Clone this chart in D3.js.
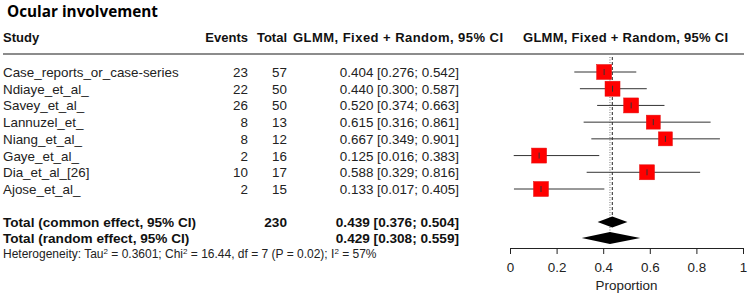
<!DOCTYPE html>
<html>
<head>
<meta charset="utf-8">
<script src="https://cdn.jsdelivr.net/npm/d3@7"></script>
<style>
  body { margin: 0; background: #fff; }
  text { font-family: "Liberation Sans", Arial, sans-serif; }
</style>
</head>
<body>
<svg width="750" height="295"></svg>
<script>
// study level data
const studies = ["Case_reports_or_case-series", "Ndiaye_et_al_", "Savey_et_al_", "Lannuzel_et_",
                 "Niang_et_al_", "Gaye_et_al_", "Dia_et_al_[26]", "Ajose_et_al_"];
const events = [23, 22, 26, 8, 8, 2, 10, 2];
const totals = [57, 50, 50, 13, 12, 16, 17, 15];
const props = [0.404, 0.440, 0.520, 0.615, 0.667, 0.125, 0.588, 0.133];
const lowers = [0.276, 0.300, 0.374, 0.316, 0.349, 0.016, 0.329, 0.017];
const uppers = [0.542, 0.587, 0.663, 0.861, 0.901, 0.383, 0.816, 0.405];

// pooled estimates
const pooledLabels = ["Total (common effect, 95% CI)", "Total (random effect, 95% CI)"];
const pooledTotals = ["230", ""];
const pooledEst = [0.439, 0.429];
const pooledLow = [0.376, 0.308];
const pooledHigh = [0.504, 0.559];

const axisTicks = [0, 0.2, 0.4, 0.6, 0.8, 1];

const svg = d3.select("svg");
const fmt = d3.format(".3f");

const x = d3.scaleLinear().domain([0, 1]).range([510, 743]);
const rowY = d3.scaleLinear().domain([0, 7]).range([72, 189]);
const poolY = d3.scaleLinear().domain([0, 1]).range([222, 238]);

// title
svg.append("text")
    .attr("x", 7)
    .attr("y", 17)
    .attr("font-size", "15.3px")
    .attr("font-weight", "bold")
    .style("font-family", "'Open Sans', sans-serif")
    .text("Ocular involvement");

// header
const header = svg.append("g")
    .attr("font-size", "13px")
    .attr("font-weight", "bold")
    .attr("fill", "#111");

header.append("text").attr("x", 3).attr("y", 42).text("Study");
header.append("text").attr("x", 248).attr("y", 42).attr("text-anchor", "end").text("Events");
header.append("text").attr("x", 287).attr("y", 42).attr("text-anchor", "end").text("Total");
header.append("text").attr("x", 293).attr("y", 42).attr("textLength", 210).text("GLMM, Fixed + Random, 95% CI");
header.append("text").attr("x", 523).attr("y", 42).attr("textLength", 205).text("GLMM, Fixed + Random, 95% CI");

svg.append("line")
    .attr("x1", 3).attr("x2", 744)
    .attr("y1", 54).attr("y2", 54)
    .attr("stroke", "#666")
    .attr("stroke-width", 1.3);

// study rows, text part
const rows = svg.append("g").attr("font-size", "13.4px").attr("fill", "#222");

studies.forEach((s, i) => {
    const y = rowY(i) + 5;
    rows.append("text").attr("x", 3).attr("y", y).text(s);
    rows.append("text").attr("x", 248).attr("y", y).attr("text-anchor", "end").text(events[i]);
    rows.append("text").attr("x", 287).attr("y", y).attr("text-anchor", "end").text(totals[i]);
    rows.append("text").attr("x", 459).attr("y", y).attr("text-anchor", "end")
        .text(fmt(props[i]) + " [" + fmt(lowers[i]) + "; " + fmt(uppers[i]) + "]");
});

// pooled rows text
const pooled = svg.append("g").attr("font-size", "13.6px").attr("font-weight", "bold").attr("fill", "#111");
pooledLabels.forEach((s, i) => {
    const y = poolY(i) + 5;
    pooled.append("text").attr("x", 3).attr("y", y).text(s);
    pooled.append("text").attr("x", 287).attr("y", y).attr("text-anchor", "end").text(pooledTotals[i]);
    pooled.append("text").attr("x", 459).attr("y", y).attr("text-anchor", "end")
        .text(fmt(pooledEst[i]) + " [" + fmt(pooledLow[i]) + "; " + fmt(pooledHigh[i]) + "]");
});

// heterogeneity line
const het = svg.append("text")
    .attr("x", 3)
    .attr("y", 258)
    .attr("font-size", "12px")
    .attr("fill", "#222");
het.append("tspan").text("Heterogeneity: Tau");
het.append("tspan").attr("dy", -4).attr("font-size", "8px").text("2");
het.append("tspan").attr("dy", 4).text(" = 0.3601; Chi");
het.append("tspan").attr("dy", -4).attr("font-size", "8px").text("2");
het.append("tspan").attr("dy", 4).text(" = 16.44, df = 7 (P = 0.02); I");
het.append("tspan").attr("dy", -4).attr("font-size", "8px").text("2");
het.append("tspan").attr("dy", 4).text(" = 57%");

// reference lines for pooled estimates
svg.append("line")
    .attr("x1", x(pooledEst[0])).attr("x2", x(pooledEst[0]))
    .attr("y1", 57).attr("y2", poolY(0) - 5)
    .attr("stroke", "#222")
    .attr("stroke-dasharray", "3,2");

svg.append("line")
    .attr("x1", x(pooledEst[1])).attr("x2", x(pooledEst[1]))
    .attr("y1", 57).attr("y2", poolY(1) - 5)
    .attr("stroke", "#777")
    .attr("stroke-dasharray", "1,1.5");

// confidence intervals
const plot = svg.append("g");
studies.forEach((s, i) => {
    const y = rowY(i);
    plot.append("line")
        .attr("x1", x(lowers[i])).attr("x2", x(uppers[i]))
        .attr("y1", y).attr("y2", y)
        .attr("stroke", "#333").attr("stroke-width", 1);
    const sz = totals[i] < 14 ? 14 : 15;
    plot.append("rect")
        .attr("x", x(props[i]) - sz / 2)
        .attr("y", y - sz / 2)
        .attr("width", sz).attr("height", sz)
        .attr("fill", "#f00")
        .attr("stroke", "#e31010")
        .attr("stroke-width", 0.5);
    plot.append("line")
        .attr("x1", x(props[i])).attr("x2", x(props[i]))
        .attr("y1", y - 3).attr("y2", y + 3)
        .attr("stroke", "#333");
});

// diamonds
const diamH = [5.5, 6];
pooledEst.forEach((e, i) => {
    const y = poolY(i);
    const h = diamH[i];
    plot.append("path")
        .attr("d", `M${x(pooledLow[i])},${y} L${x(e)},${y - h} L${x(pooledHigh[i])},${y} L${x(e)},${y + h} Z`)
        .attr("fill", "#000");
});

// axis
const axis = svg.append("g")
    .attr("transform", "translate(0,248)")
    .call(d3.axisBottom(x).tickValues(axisTicks).tickSize(6).tickFormat(d => d === 0 || d === 1 ? d : d3.format(".1f")(d)));
axis.select(".domain").attr("stroke", "#222");
axis.selectAll(".tick line").attr("stroke", "#222");
axis.selectAll(".tick text")
    .attr("font-size", "13.4px")
    .attr("fill", "#222")
    .attr("dy", "1.15em")
    .style("font-family", "'Liberation Sans', Arial, sans-serif");

svg.append("text")
    .attr("x", x(0.5))
    .attr("y", 290)
    .attr("text-anchor", "middle")
    .attr("font-size", "13.4px")
    .attr("fill", "#222")
    .text("Proportion");
</script>
</body>
</html>
